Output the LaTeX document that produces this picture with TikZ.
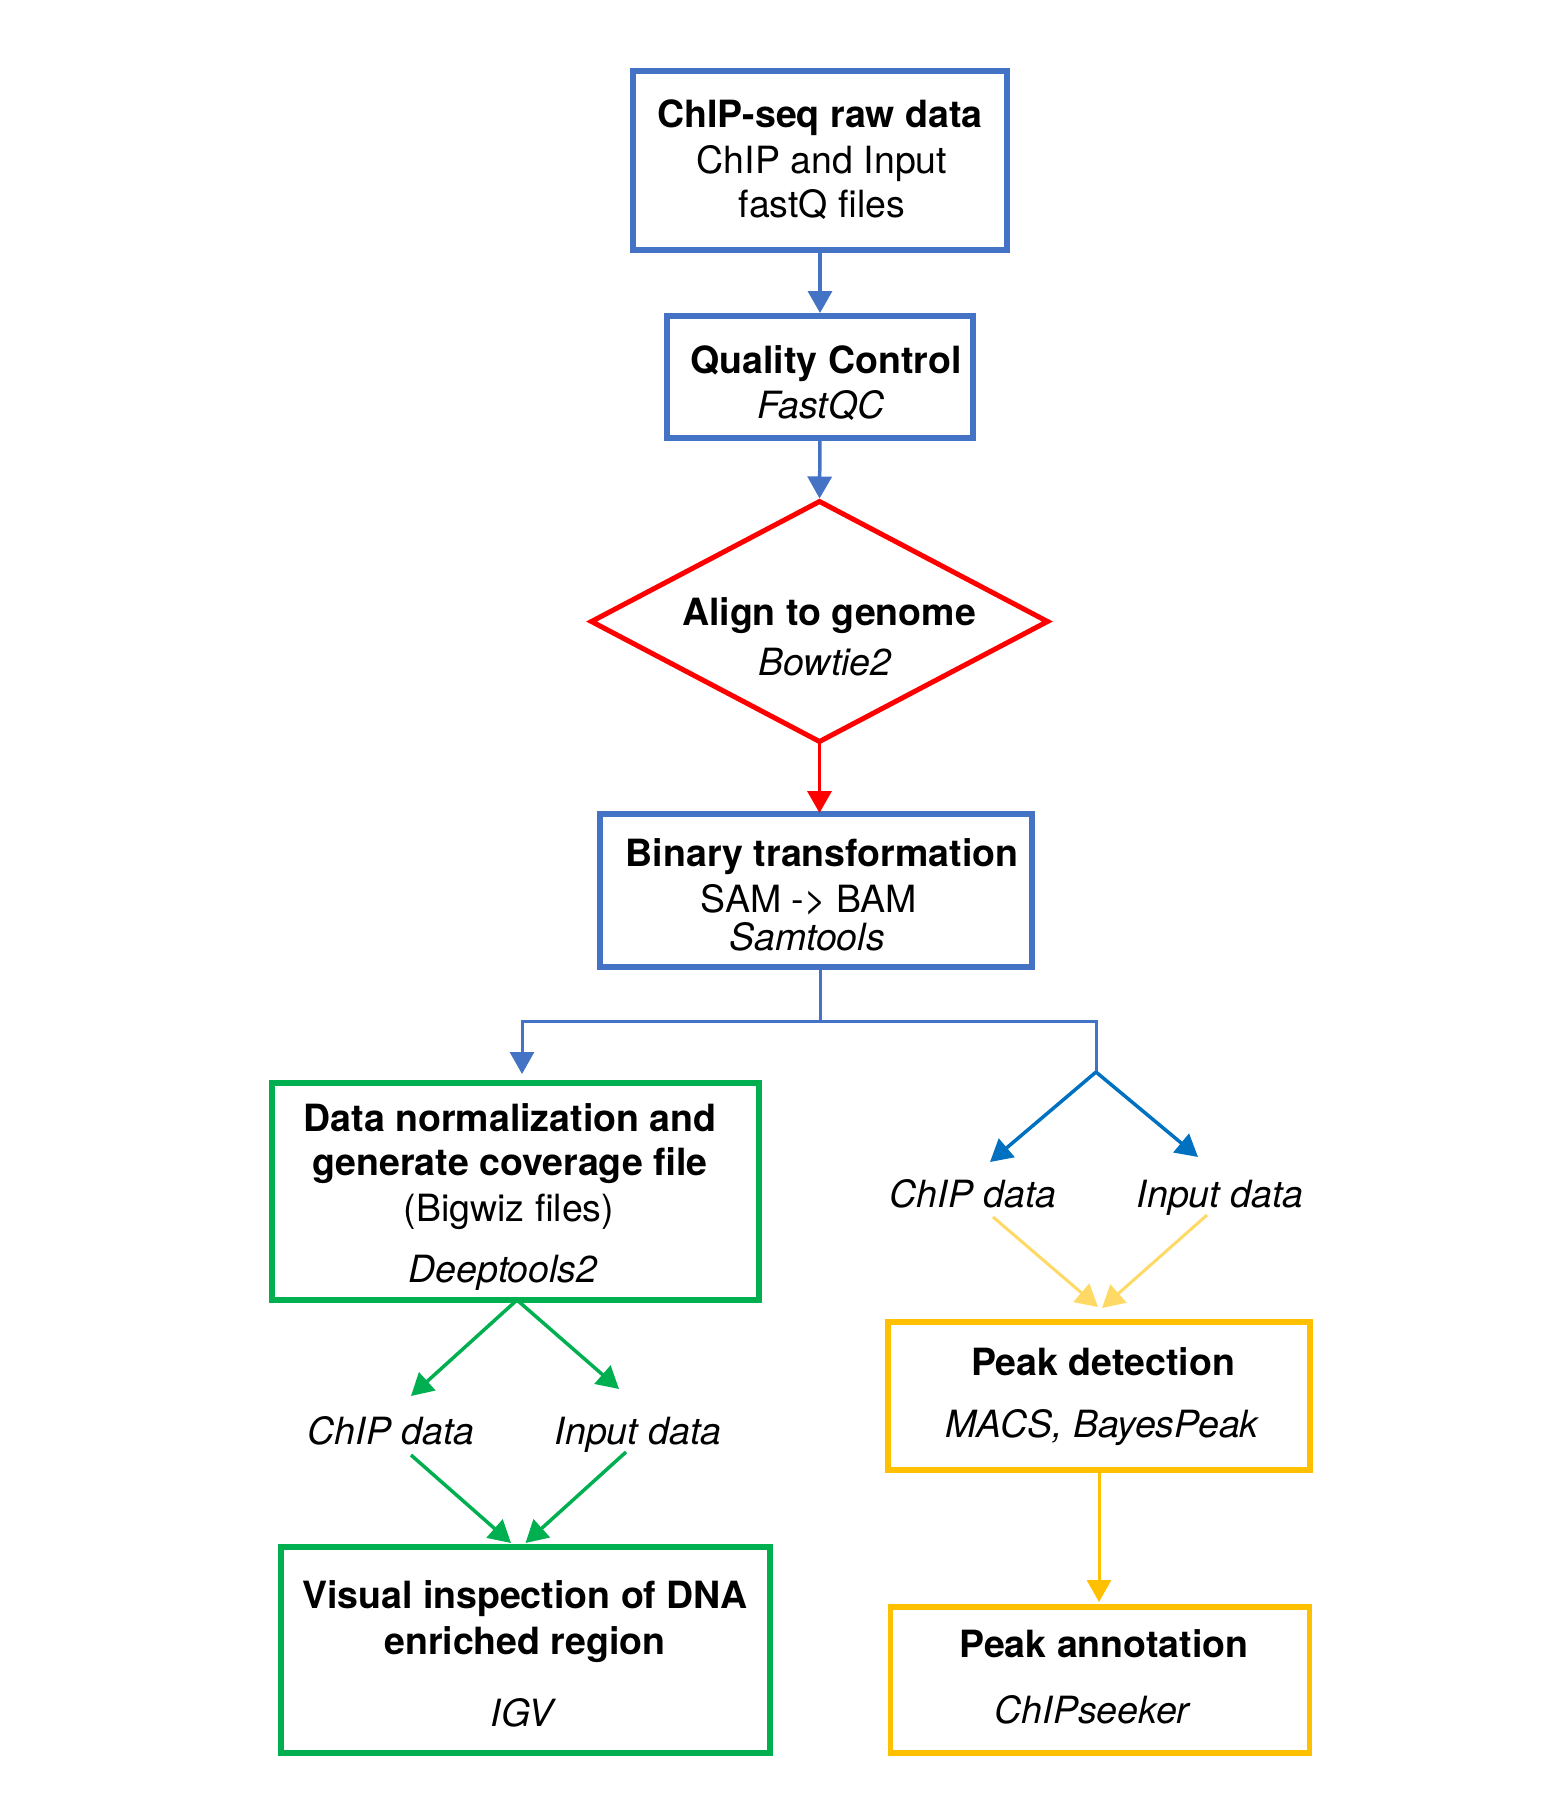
\documentclass[tikz,border=0pt]{standalone}
\usepackage{fontspec}
\setmainfont{TeX Gyre Heros}
\usetikzlibrary{arrows.meta,shapes.geometric}
\definecolor{boxblue}{HTML}{4472C4}
\definecolor{forkblue}{HTML}{0070C0}
\definecolor{alignred}{HTML}{FF0000}
\definecolor{normgreen}{HTML}{00B050}
\definecolor{peakgold}{HTML}{FFC000}
\definecolor{paleyellow}{HTML}{FFD966}

\begin{document}
\begin{tikzpicture}[x=1pt,y=-1pt,
  stepbox/.style={draw, rectangle, line width=5.5pt, inner sep=0pt, outer sep=0pt},
  txt/.style={anchor=base, inner sep=0pt, font=\fontsize{37.5}{45}\selectfont},
  hd/.style={txt, font=\fontsize{37.5}{45}\selectfont\bfseries},
  it/.style={txt, font=\fontsize{37.5}{45}\selectfont\itshape},
  conn/.style={line width=3.5pt, -{Triangle[length=22pt,width=24pt]}},
]
\useasboundingbox (0,0) rectangle (1564,1820);

% ---- main column ----
\node[stepbox, draw=boxblue, minimum width=374pt, minimum height=179pt] (raw) at (820,160.5) {};
\node[hd] (rawa) at (820,127) {ChIP-seq raw data};
\node[txt] (rawb) at (822,173) {ChIP and Input};
\node[txt] (rawc) at (822,217) {fastQ files};

\node[stepbox, draw=boxblue, minimum width=306pt, minimum height=122pt] (qc) at (820,377) {};
\node[hd] (qca) at (826,373) {Quality Control};
\node[it] (qcb) at (821,418) {FastQC};

\node[draw=alignred, diamond, line width=5pt, inner sep=0pt, outer sep=0pt,
      minimum width=456pt, minimum height=240pt] (align) at (819.5,621.5) {};
\node[hd] (alga) at (829,625) {Align to genome};
\node[it] (algb) at (825,675) {Bowtie2};

\node[stepbox, draw=boxblue, minimum width=432pt, minimum height=153pt] (bam) at (816,890.5) {};
\node[hd] (bama) at (822,866) {Binary transformation};
\node[txt] (bamb) at (809,912) {SAM -> BAM};
\node[it] (bamc) at (807,950) {Samtools};

% ---- left branch ----
\node[stepbox, draw=normgreen, minimum width=487pt, minimum height=217pt] (norm) at (515.5,1191.5) {};
\node[hd] (norma) at (510,1131) {Data normalization and};
\node[hd] (normb) at (510,1175) {generate coverage file};
\node[txt] (normc) at (509,1221) {(Bigwiz files)};
\node[it] (normd) at (503,1282) {Deeptools2};

\node[it] (chipL) at (391,1444) {ChIP data};
\node[it] (inputL) at (638,1444) {Input data};

\node[stepbox, draw=normgreen, minimum width=489pt, minimum height=206pt] (visual) at (525.5,1650) {};
\node[hd] (visa) at (525,1608) {Visual inspection of DNA};
\node[hd] (visb) at (525,1654) {enriched region};
\node[it] (visc) at (522,1726) {IGV};

% ---- right branch ----
\coordinate (fork) at (1096,1072);
\node[it] (chipR) at (973,1207) {ChIP data};
\node[it] (inputR) at (1220,1207) {Input data};

\node[stepbox, draw=peakgold, minimum width=422pt, minimum height=148pt] (peak) at (1099,1396) {};
\node[hd] (peaka) at (1103,1375) {Peak detection};
\node[it] (peakb) at (1102,1437) {MACS, BayesPeak};

\node[stepbox, draw=peakgold, minimum width=419pt, minimum height=146pt] (annot) at (1100,1680) {};
\node[hd] (annota) at (1104,1657) {Peak annotation};
\node[it] (annotb) at (1092,1723) {ChIPseeker};

% ---- connectors ----
\draw[conn, boxblue, shorten >=3pt] (raw.south) -- (qc.north);
\draw[conn, boxblue, shorten >=3pt] (qc.south) -- (align.north);
\draw[conn, alignred, shorten >=1pt] (align.south) -- (align.south |- bam.north);

\draw[boxblue, line width=3pt] ([xshift=4pt]bam.south) -- ++(0,54) coordinate (split) -| (fork);
\draw[boxblue, line width=3pt, -{Triangle[length=22pt,width=24pt]}, shorten >=9pt]
  (split) -| ([xshift=6.5pt]norm.north);

\draw[conn, forkblue] (fork) -- ([shift={(17,-45)}]chipR.base);
\draw[conn, forkblue] (fork) -- ([shift={(-22,-50)}]inputR.base);

\draw[conn, paleyellow, line width=3pt] ([shift={(20,10)}]chipR.base) -- ([shift={(-1,-15)}]peak.north);
\draw[conn, paleyellow, line width=3pt] ([shift={(-13,8)}]inputR.base) -- ([shift={(3,-14)}]peak.north);
\draw[conn, peakgold, line width=3pt, shorten >=5pt] (peak.south) -- (peak.south |- annot.north);

\draw[conn, normgreen] ([xshift=1.5pt]norm.south) -- ([shift={(20,-48)}]chipL.base);
\draw[conn, normgreen] ([xshift=1.5pt]norm.south) -- ([shift={(-19,-55)}]inputL.base);
\draw[conn, normgreen] ([shift={(20,11)}]chipL.base) -- ([shift={(-14.5,-4)}]visual.north);
\draw[conn, normgreen] ([shift={(-12,8)}]inputL.base) -- ([shift={(0,-4)}]visual.north);
\end{tikzpicture}
\end{document}
